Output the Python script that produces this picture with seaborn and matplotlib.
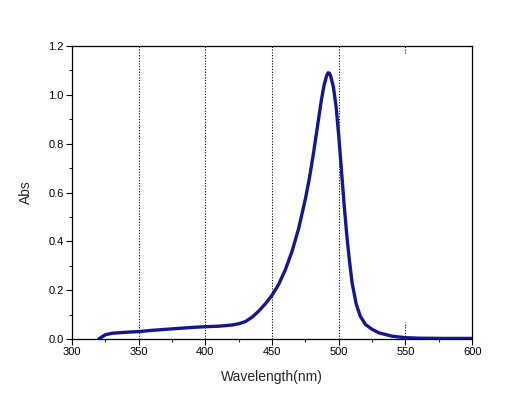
import matplotlib
matplotlib.use("Agg")
import matplotlib.pyplot as plt
from matplotlib.ticker import MultipleLocator, FormatStrFormatter
import seaborn as sns
import pandas as pd

wavelength = [320, 322, 325, 330, 340, 350, 360, 370, 380, 390, 400, 410, 420,
              425, 430, 435, 440, 445, 450, 455, 460, 465, 470, 475, 478, 481,
              484, 487, 489, 491, 492, 493, 494, 496, 498, 500, 502, 504, 506,
              508, 510, 513, 516, 520, 525, 530, 540, 550, 560, 580, 600]
absorbance = [0.0, 0.008, 0.018, 0.024, 0.028, 0.031, 0.036, 0.040, 0.044, 0.048,
              0.051, 0.053, 0.058, 0.063, 0.072, 0.090, 0.115, 0.145, 0.18, 0.225,
              0.285, 0.36, 0.455, 0.575, 0.66, 0.76, 0.87, 0.98, 1.04, 1.08, 1.09,
              1.088, 1.075, 1.03, 0.95, 0.83, 0.69, 0.55, 0.425, 0.32, 0.23, 0.145,
              0.095, 0.06, 0.040, 0.026, 0.012, 0.006, 0.004, 0.003, 0.003]
grid_x = [350, 400, 450, 500]
x_ticks = [300, 350, 400, 450, 500, 550, 600]
y_ticks = [0.0, 0.2, 0.4, 0.6, 0.8, 1.0, 1.2]

df = pd.DataFrame({"Wavelength": wavelength, "Abs": absorbance})

sns.set_style("ticks")
plt.rcParams["font.family"] = ["Liberation Sans", "DejaVu Sans"]

fig = plt.figure(figsize=(5.11, 3.99), dpi=100)
ax = fig.add_axes([0.141, 0.150, 0.783, 0.735])

dots = (0, (1, 1.5))
for gx in grid_x:
    ax.axvline(gx, color="black", linestyle=dots, linewidth=0.8, zorder=1)
ax.axvline(550, ymin=0.0, ymax=0.06, color="black", linestyle=dots, linewidth=0.8, zorder=1)
ax.axvline(550, ymin=0.975, ymax=1.0, color="black", linestyle=dots, linewidth=0.8, zorder=1)

sns.lineplot(data=df, x="Wavelength", y="Abs", ax=ax, color="#16168f", linewidth=2.4, zorder=3)

ax.set_xlim(300, 600)
ax.set_ylim(0, 1.2)
ax.set_xticks(x_ticks)
ax.set_yticks(y_ticks)
ax.xaxis.set_minor_locator(MultipleLocator(25))
ax.yaxis.set_minor_locator(MultipleLocator(0.1))
ax.yaxis.set_major_formatter(FormatStrFormatter("%.1f"))
ax.tick_params(which="major", direction="out", length=4, width=0.8, labelsize=8, colors="black", pad=2)
ax.tick_params(which="minor", direction="out", length=2.5, width=0.8)
ax.tick_params(top=False, right=False, which="both")

for s in ax.spines.values():
    s.set_color("black")
    s.set_linewidth(0.9)
    s.set_visible(True)

ax.set_xlabel("Wavelength(nm)", fontsize=10, labelpad=9)
ax.set_ylabel("Abs", fontsize=10, labelpad=11)

fig.savefig("out.png", dpi=100, facecolor="white")
